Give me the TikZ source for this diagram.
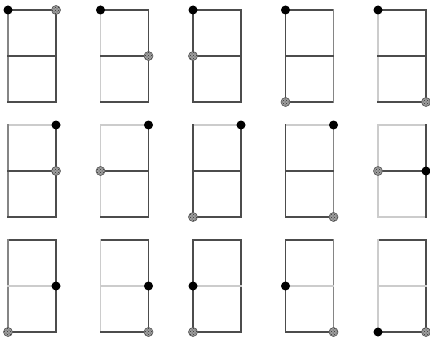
\documentclass[tikz,border=0pt]{standalone}
\usetikzlibrary{patterns}
\colorlet{dk}{black!70}
\colorlet{md}{black!48}
\colorlet{lt}{black!20}
\tikzset{
  edge/.style={line width=1.2pt,line cap=rect},
  startdot/.style={circle,fill=black,inner sep=0pt,minimum size=9pt},
  enddot/.style={circle,draw=black!65,line width=0.6pt,inner sep=0pt,minimum size=9pt,
    preaction={fill=black!38},pattern=crosshatch dots,pattern color=black!80},
}
\begin{document}
\begin{tikzpicture}[x=1pt,y=-1pt]
  \useasboundingbox (0,0) rectangle (430,345);
  % col/row/top/upper left/lower left/bottom/lower right/upper right/middle/start/end
  \foreach \c/\r/\t/\ul/\ll/\b/\lr/\ur/\m/\s/\e in {
      0/0/dk/md/md/dk/dk/dk/dk/TL/TR, 1/0/dk/lt/lt/dk/dk/dk/dk/TL/MR,
      2/0/dk/dk/dk/dk/dk/dk/dk/TL/ML, 3/0/dk/dk/dk/dk/md/md/dk/TL/BL,
      4/0/dk/lt/lt/dk/dk/dk/dk/TL/BR,
      0/1/lt/md/md/dk/dk/dk/dk/TR/MR, 1/1/lt/lt/lt/dk/dk/dk/dk/TR/ML,
      2/1/lt/dk/dk/dk/dk/dk/dk/TR/BL, 3/1/lt/dk/dk/dk/md/md/dk/TR/BR,
      4/1/lt/lt/lt/lt/dk/dk/dk/MR/ML,
      0/2/dk/md/md/dk/dk/dk/lt/MR/BL, 1/2/dk/lt/lt/dk/dk/dk/lt/MR/BR,
      2/2/dk/dk/dk/dk/dk/dk/lt/ML/BL, 3/2/dk/dk/dk/dk/md/md/lt/ML/BR,
      4/2/dk/lt/lt/dk/dk/dk/lt/BL/BR}{
    \begin{scope}[shift={({8+92.5*\c},{10+115*\r})}]
      \coordinate (TL) at (0,0);
      \coordinate (TR) at (48,0);
      \coordinate (ML) at (0,46);
      \coordinate (MR) at (48,46);
      \coordinate (BL) at (0,92);
      \coordinate (BR) at (48,92);
      \draw[edge,\t] (TL) -- (TR);
      \draw[edge,\ul] (TL) -- (ML);
      \draw[edge,\ll] (ML) -- (BL);
      \draw[edge,\b] (BL) -- (BR);
      \draw[edge,\lr] (BR) -- (MR);
      \draw[edge,\ur] (MR) -- (TR);
      \draw[edge,\m] (ML) -- (MR);
      \node[startdot] (go\c\r) at (\s) {};
      \node[enddot] (stop\c\r) at (\e) {};
    \end{scope}
  }
\end{tikzpicture}
\end{document}
